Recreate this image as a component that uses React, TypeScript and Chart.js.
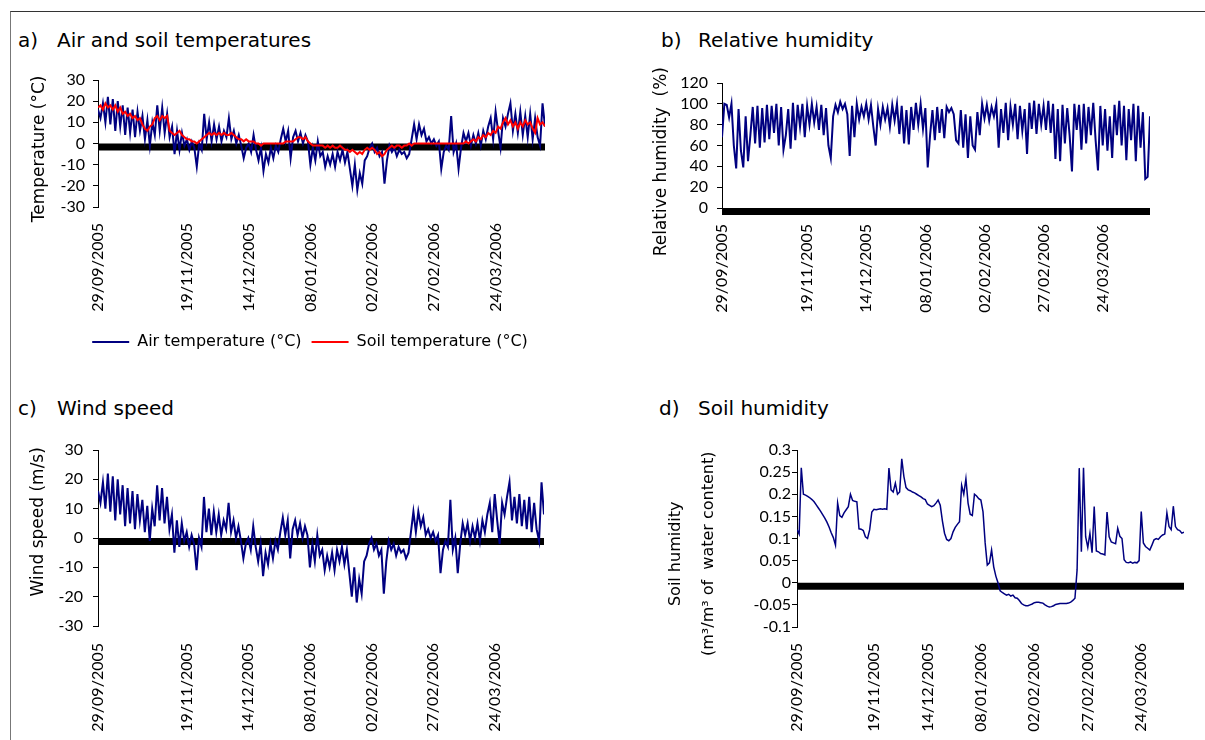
import React, { useEffect, useRef } from 'react';
import { Chart, registerables } from 'chart.js';

Chart.register(...registerables);

const FONT = 'Lato, "DejaVu Sans", sans-serif';
const TEXT_FONT = '"DejaVu Sans", Lato, sans-serif';
Chart.defaults.font.family = FONT;
Chart.defaults.color = '#000';

// x positions (day index of the sampled record) and the date labels shown there
const tickDays = [0, 36, 61, 86, 111, 136, 161];
const tickLabels = ['29/09/2005', '19/11/2005', '14/12/2005', '08/01/2006', '02/02/2006', '27/02/2006', '24/03/2006'];
const lastDay = 181;

const airTemperature = [
  16, 12, 19, 10, 22, 9, 21, 6, 20, 8,
  18, 4, 17, 5, 16, 3, 15, 6, 13, 2,
  11, -1, 10, 4, 18, 6, 17, 5, 14, 3,
  8, -5, 6, -3, 5, -1, 2, -3, 1, -2,
  -11, 0, -3, 14, 2, 10, 1, 9, 2, 8,
  1, 6, 3, 12, 2, 6, 0, 4, -1, -7,
  -2, 0, -4, 4, -3, -8, -2, -13, -5, -9,
  -2, -7, -1, -4, 2, 7, 1, 6, -7, 3,
  6, 1, 5, 0, 4, 1, -10, -2, -8, 1,
  -6, -4, -11, -6, -10, -5, -11, -4, -8, -3,
  -9, -4, -12, -20, -10, -22, -14, -19, -8, -6,
  -2, 0, -4, -2, -6, -4, -19, -8, -1, -4,
  -2, -6, -3, -5, -4, -7, -5, 2, 9, 2,
  9, 4, 7, 1, 3, 0, 2, -1, 1, -12,
  -4, -1, -3, 13, -4, 0, -12, -2, 5, 1,
  5, -1, 4, 0, 5, -1, 6, 2, 8, 12,
  2, 15, 6, -2, 12, 8, 14, 19, 6, 14,
  5, 15, 4, 13, 3, 14, 2, 12, 3, -1,
  19, 8,
];

const soilTemperature = [
  17, 18, 16, 19, 17, 18, 16, 18, 15, 17,
  14, 15, 13, 14, 12, 13, 11, 12, 9, 7,
  6, 8, 9, 12, 13, 11, 13, 12, 13, 6,
  5, 4, 5, 6, 4, 3, 2, 2, 1, 1,
  0, 1, 2, 3, 4, 5, 4, 5, 4, 5,
  4, 5, 4, 4, 5, 4, 3, 2, 2, 1,
  2, 1, 1, 1, 0, 0, -1, 0, 0, 0,
  0, 0, 0, 0, 0, 0, 1, 1, 1, 1,
  2, 3, 3, 2, 3, 1, 0, -1, -1, -1,
  -1, -1, -2, -1, -2, -1, -2, -2, -1, -2,
  -3, -3, -4, -3, -4, -5, -4, -5, -3, -2,
  -3, -2, -3, -5, -4, -6, -5, -3, -2, -1,
  -2, -1, -1, -2, -1, -1, 0, -1, 0, 0,
  0, 0, 0, 0, 0, 0, 0, 0, 0, 0,
  0, 0, 0, 0, 0, 0, 0, 0, 0, 1,
  0, 1, 2, 1, 3, 2, 4, 3, 5, 4,
  6, 5, 8, 7, 10, 12, 9, 11, 8, 10,
  7, 10, 8, 11, 9, 10, 7, 5, 12, 9,
  10, 8,
];

const relativeHumidity = [
  68, 100, 99, 87, 100, 60, 38, 95, 55, 39,
  88, 45, 70, 97, 62, 98, 58, 96, 63, 99,
  66, 98, 72, 100, 60, 97, 56, 70, 95, 57,
  101, 65, 99, 78, 100, 68, 98, 80, 100, 82,
  97, 75, 99, 70, 96, 60, 48, 88, 99, 92,
  102, 95, 100, 90, 50, 98, 68, 100, 85, 97,
  88, 100, 85, 99, 78, 60, 95, 80, 97, 85,
  96, 78, 99, 84, 100, 71, 98, 62, 94, 61,
  97, 75, 101, 80, 100, 76, 96, 39, 70, 94,
  65, 97, 72, 95, 67, 97, 92, 96, 90, 65,
  62, 94, 58, 90, 48, 88, 60, 56, 92, 70,
  100, 86, 99, 84, 97, 88, 100, 58, 95, 72,
  101, 65, 97, 80, 100, 66, 98, 74, 95, 52,
  101, 76, 103, 71, 100, 80, 98, 75, 103, 72,
  100, 47, 95, 45, 99, 62, 96, 70, 35, 100,
  75, 99, 56, 100, 62, 97, 70, 101, 65, 36,
  98, 60, 95, 55, 88, 48, 99, 70, 103, 60,
  98, 46, 95, 65, 100, 45, 98, 58, 92, 28,
  30, 88,
];

const windSpeed = [
  16, 12, 19, 10, 22, 9, 21, 6, 20, 8,
  18, 4, 17, 5, 16, 3, 15, 6, 13, 2,
  11, -1, 10, 4, 18, 6, 17, 5, 14, 3,
  8, -5, 6, -3, 5, -1, 2, -3, 1, -2,
  -11, 0, -3, 14, 2, 10, 1, 9, 2, 8,
  1, 6, 3, 12, 2, 6, 0, 4, -1, -7,
  -2, 0, -4, 4, -3, -8, -2, -13, -5, -9,
  -2, -7, -1, -4, 2, 7, 1, 6, -7, 3,
  6, 1, 5, 0, 4, 1, -10, -2, -8, 1,
  -6, -4, -11, -6, -10, -5, -11, -4, -8, -3,
  -9, -4, -12, -20, -10, -22, -14, -19, -8, -6,
  -2, 0, -4, -2, -6, -4, -19, -8, -1, -4,
  -2, -6, -3, -5, -4, -7, -5, 2, 9, 2,
  9, 4, 7, 1, 3, 0, 2, -1, 1, -12,
  -4, -1, -3, 13, -4, 0, -12, -2, 5, 1,
  5, -1, 4, 0, 5, -1, 6, 2, 8, 12,
  2, 15, 6, -2, 12, 8, 14, 19, 6, 14,
  5, 15, 4, 13, 3, 14, 2, 12, 3, -1,
  19, 8,
];

const soilHumidity = [
  0.12, 0.11, 0.26, 0.2, 0.198, 0.195, 0.192, 0.188, 0.183, 0.176,
  0.169, 0.162, 0.154, 0.146, 0.137, 0.126, 0.113, 0.102, 0.085, 0.18,
  0.152, 0.148, 0.158, 0.165, 0.172, 0.2, 0.186, 0.184, 0.183, 0.122,
  0.121, 0.118, 0.104, 0.1, 0.12, 0.16, 0.166, 0.165, 0.166, 0.167,
  0.166, 0.167, 0.166, 0.259, 0.21, 0.205, 0.225, 0.2, 0.205, 0.28,
  0.24, 0.215, 0.21, 0.208, 0.205, 0.203, 0.2, 0.197, 0.194, 0.19,
  0.188, 0.178, 0.175, 0.172, 0.174, 0.18, 0.187, 0.175, 0.14, 0.112,
  0.098, 0.095, 0.1, 0.115, 0.125, 0.132, 0.138, 0.22, 0.2, 0.235,
  0.18, 0.155, 0.152, 0.2, 0.196, 0.19, 0.187, 0.16, 0.09, 0.04,
  0.045, 0.074, 0.036, 0.015, 0, -0.018, -0.022, -0.025, -0.028, -0.026,
  -0.03, -0.028, -0.034, -0.035, -0.04, -0.047, -0.05, -0.052, -0.052, -0.05,
  -0.048, -0.045, -0.044, -0.044, -0.045, -0.046, -0.05, -0.053, -0.055, -0.054,
  -0.052, -0.049, -0.048, -0.047, -0.047, -0.047, -0.047, -0.046, -0.044, -0.04,
  -0.035, 0.029, 0.259, 0.07, 0.26, 0.104, 0.08, 0.112, 0.068, 0.172,
  0.072, 0.07, 0.066, 0.065, 0.063, 0.16, 0.104, 0.092, 0.09, 0.088,
  0.123, 0.105, 0.1, 0.052, 0.046, 0.045, 0.047, 0.044, 0.046, 0.045,
  0.05, 0.161, 0.09, 0.082, 0.078, 0.074, 0.085, 0.097, 0.1, 0.098,
  0.104, 0.108, 0.11, 0.158, 0.127, 0.12, 0.173, 0.127, 0.12, 0.118,
  0.112, 0.114,
];

const NAVY = '#000080';
const RED = '#ff0000';

const toPoints = (arr: number[]) => arr.map((y, i) => ({ x: i, y }));

// Thick black band under the zero line (dense category tick marks in the original)
const zeroBand = {
  id: 'zeroBand',
  beforeDatasetsDraw(chart: any) {
    const { ctx, chartArea } = chart;
    const y0 = chart.scales.y.getPixelForValue(0);
    ctx.save();
    ctx.fillStyle = '#000';
    ctx.fillRect(chartArea.left, y0, chartArea.right - chartArea.left, 7);
    ctx.restore();
  },
};

type PanelOpts = {
  datasets: any[];
  yMin: number;
  yMax: number;
  yStep: number;
  yTitle: string | string[];
  titleSize: number;
  titlePad: number;
  titleLineHeight: number;
  yWidth: number;
  tickPad: number;
  xHeight: number;
  xPad: number;
  padTop: number;
  padRight: number;
  legend: boolean;
};

function makeConfig(o: PanelOpts): any {
  return {
    type: 'line',
    data: { datasets: o.datasets },
    plugins: [zeroBand],
    options: {
      animation: false,
      responsive: false,
      devicePixelRatio: 1,
      layout: { padding: { top: o.padTop, left: 0, right: 0, bottom: 0 } },
      plugins: {
        tooltip: { enabled: false },
        legend: {
          display: o.legend,
          position: 'bottom',
          labels: {
            usePointStyle: true,
            pointStyle: 'line',
            pointStyleWidth: 37,
            boxHeight: 16,
            padding: 10,
            color: '#000',
            font: { size: 16, family: TEXT_FONT },
            sort: (a: any, b: any) => a.datasetIndex - b.datasetIndex,
          },
        },
      },
      scales: {
        x: {
          type: 'linear',
          min: 0,
          max: lastDay,
          afterBuildTicks: (s: any) => {
            s.ticks = tickDays.map((v) => ({ value: v }));
          },
          afterFit: (s: any) => {
            s.height = o.xHeight;
            s.paddingRight = o.padRight;
            s.paddingLeft = 0;
          },
          ticks: {
            autoSkip: false,
            minRotation: 90,
            maxRotation: 90,
            padding: o.xPad,
            color: '#000',
            font: { size: 16, family: FONT },
            callback: (v: number) => {
              const k = tickDays.indexOf(v);
              return k >= 0 ? tickLabels[k] : '';
            },
          },
          grid: { display: false, drawTicks: false },
          border: { display: false },
        },
        y: {
          min: o.yMin,
          max: o.yMax,
          afterFit: (s: any) => {
            s.width = o.yWidth;
          },
          ticks: {
            stepSize: o.yStep,
            autoSkip: false,
            padding: o.tickPad,
            color: '#000',
            font: { size: 16, family: FONT },
            callback: (v: number) => String(Math.round(v * 1000) / 1000),
          },
          grid: { drawOnChartArea: false, drawTicks: true, tickLength: 5, color: '#000', lineWidth: 1 },
          border: { display: true, color: '#000', width: 1 },
          title: {
            display: true,
            text: o.yTitle,
            color: '#000',
            font: { size: o.titleSize, family: TEXT_FONT, lineHeight: o.titleLineHeight },
            padding: { top: o.titlePad, bottom: 0 },
          },
        },
      },
    },
  };
}

function ChartCanvas(props: { left: number; top: number; width: number; height: number; config: any }) {
  const ref = useRef<HTMLCanvasElement | null>(null);
  useEffect(() => {
    if (!ref.current) return;
    const chart = new Chart(ref.current, props.config);
    return () => chart.destroy();
  }, []);
  return (
    <canvas
      ref={ref}
      width={props.width}
      height={props.height}
      style={{ position: 'absolute', left: props.left, top: props.top, width: props.width, height: props.height }}
    />
  );
}

function PanelTitle(props: { x: number; tx: number; cy: number; letter: string; text: string }) {
  const base: React.CSSProperties = {
    position: 'absolute',
    top: props.cy - 12,
    fontSize: 20,
    lineHeight: '24px',
    color: '#000',
    whiteSpace: 'nowrap',
    fontFamily: TEXT_FONT,
  };
  return (
    <>
      <div style={{ ...base, left: props.x }}>{props.letter}</div>
      <div style={{ ...base, left: props.tx }}>{props.text}</div>
    </>
  );
}

const lineDs = (label: string, data: number[], color: string, order: number, width = 2) => ({
  label,
  data: toPoints(data),
  borderColor: color,
  backgroundColor: color,
  borderWidth: width,
  pointRadius: 0,
  tension: 0,
  fill: false,
  order,
});

// whitespace at either end of a rotated title nudges it along the axis, as in the original layout
const configA = makeConfig({
  datasets: [
    lineDs('Air temperature (°C)', airTemperature, NAVY, 2),
    lineDs('Soil temperature (°C)', soilTemperature, RED, 1),
  ],
  yMin: -30, yMax: 30, yStep: 10,
  yTitle: 'Temperature (°C)  ', titleSize: 17, titlePad: 19, titleLineHeight: 1.2,
  yWidth: 88, tickPad: 8, xHeight: 117, xPad: 16, padTop: 20, padRight: 65, legend: true,
});

const configB = makeConfig({
  datasets: [lineDs('Relative humidity', relativeHumidity, NAVY, 1)],
  yMin: 0, yMax: 120, yStep: 20,
  yTitle: 'Relative humidity  (%)      ', titleSize: 17, titlePad: 31, titleLineHeight: 1.2,
  yWidth: 102, tickPad: 9, xHeight: 152, xPad: 16, padTop: 23, padRight: 55, legend: false,
});

const configC = makeConfig({
  datasets: [lineDs('Wind speed', windSpeed, NAVY, 1)],
  yMin: -30, yMax: 30, yStep: 10,
  yTitle: '      Wind speed (m/s)', titleSize: 17, titlePad: 18, titleLineHeight: 1.2,
  yWidth: 88, tickPad: 10, xHeight: 114, xPad: 17, padTop: 30, padRight: 66, legend: false,
});

const configD = makeConfig({
  datasets: [lineDs('Soil humidity', soilHumidity, NAVY, 1, 1.5)],
  yMin: -0.1, yMax: 0.3, yStep: 0.05,
  yTitle: ['Soil humidity      ', '(m³/m³ of  water content)      '], titleSize: 16, titlePad: 39, titleLineHeight: 2.06,
  yWidth: 177, tickPad: 1, xHeight: 113, xPad: 16, padTop: 30, padRight: 21, legend: false,
});

export default function App() {
  return (
    <div
      style={{
        position: 'fixed',
        left: 0,
        top: 0,
        width: 1205,
        height: 740,
        overflow: 'hidden',
        background: '#fff',
        fontFamily: FONT,
      }}
    >
      <div
        style={{
          position: 'absolute',
          left: 10,
          top: 11,
          width: 1300,
          height: 800,
          borderTop: '1px solid #333',
          borderLeft: '1px solid #777',
        }}
      />
      <PanelTitle x={18} tx={57} cy={40} letter="a)" text="Air and soil temperatures" />
      <PanelTitle x={661} tx={698} cy={40} letter="b)" text="Relative humidity" />
      <PanelTitle x={18} tx={57} cy={408} letter="c)" text="Wind speed" />
      <PanelTitle x={659} tx={698} cy={408} letter="d)" text="Soil humidity" />
      <ChartCanvas left={10} top={60} width={600} height={300} config={configA} />
      <ChartCanvas left={620} top={60} width={585} height={300} config={configB} />
      <ChartCanvas left={10} top={420} width={600} height={320} config={configC} />
      <ChartCanvas left={620} top={420} width={585} height={320} config={configD} />
    </div>
  );
}
